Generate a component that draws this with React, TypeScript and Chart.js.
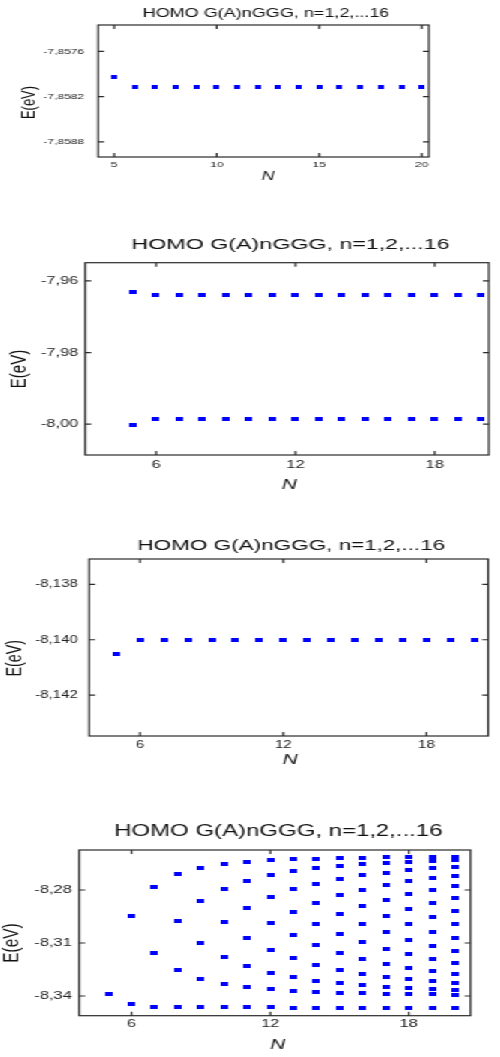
import React, { useEffect, useRef } from 'react';
import { Chart, registerables } from 'chart.js';

Chart.register(...registerables);

// ---------------- DATA ----------------
const TITLE = 'HOMO G(A)nGGG, n=1,2,...16';
const X_TITLE = 'N';
const Y_TITLE = 'E(eV)';

// Panel 1
const n1 = [5, 6, 7, 8, 9, 10, 11, 12, 13, 14, 15, 16, 17, 18, 19, 20];
const homo1 = [
  -7.85794, -7.85807, -7.85807, -7.85807, -7.85807, -7.85807, -7.85807, -7.85807,
  -7.85807, -7.85807, -7.85807, -7.85807, -7.85807, -7.85807, -7.85807, -7.85807,
];
const xTicks1 = [5, 10, 15, 20];
const yTicks1 = [-7.8576, -7.8582, -7.8588];

// Panel 2
const n2 = [5, 6, 7, 8, 9, 10, 11, 12, 13, 14, 15, 16, 17, 18, 19, 20];
const homo2Upper = [
  -7.9630, -7.9640, -7.9640, -7.9640, -7.9640, -7.9640, -7.9640, -7.9640,
  -7.9640, -7.9640, -7.9640, -7.9640, -7.9640, -7.9640, -7.9640, -7.9640,
];
const homo2Lower = [
  -8.0001, -7.9986, -7.9986, -7.9986, -7.9986, -7.9986, -7.9986, -7.9986,
  -7.9986, -7.9986, -7.9986, -7.9986, -7.9986, -7.9986, -7.9986, -7.9986,
];
const xTicks2 = [6, 12, 18];
const yTicks2 = [-7.96, -7.98, -8.0];

// Panel 3
const n3 = [5, 6, 7, 8, 9, 10, 11, 12, 13, 14, 15, 16, 17, 18, 19, 20];
const homo3 = [
  -8.14051, -8.14002, -8.14002, -8.14002, -8.14002, -8.14002, -8.14002, -8.14002,
  -8.14002, -8.14002, -8.14002, -8.14002, -8.14002, -8.14002, -8.14002, -8.14002,
];
const xTicks3 = [6, 12, 18];
const yTicks3 = [-8.138, -8.14, -8.142];

// Panel 4 (one list of levels per N)
const n4 = [5, 6, 7, 8, 9, 10, 11, 12, 13, 14, 15, 16, 17, 18, 19, 20];
const homo4Levels: number[][] = [
  [-8.3387],
  [-8.2949, -8.3447],
  [-8.2785, -8.3155, -8.346],
  [-8.2711, -8.2975, -8.3253, -8.3464],
  [-8.2675, -8.2864, -8.3098, -8.3302, -8.3464],
  [-8.2653, -8.2793, -8.2983, -8.3177, -8.3332, -8.3464],
  [-8.264, -8.2747, -8.29, -8.3072, -8.323, -8.3349, -8.3464],
  [-8.2632, -8.2715, -8.2841, -8.2989, -8.3138, -8.3268, -8.3362, -8.3464],
  [-8.2626, -8.2694, -8.2796, -8.2923, -8.3057, -8.3187, -8.3294, -8.3372, -8.3466],
  [-8.2623, -8.2677, -8.2764, -8.2872, -8.2992, -8.3111, -8.3223, -8.3315, -8.3377, -8.3466],
  [-8.2619, -8.2664, -8.2738, -8.283, -8.2938, -8.3049, -8.3155, -8.3253, -8.3328, -8.3381, -8.3466],
  [-8.2617, -8.2655, -8.2717, -8.2798, -8.2892, -8.2994, -8.3094, -8.3189, -8.3274, -8.334, -8.3385, -8.3466],
  [-8.2615, -8.2647, -8.2702, -8.2772, -8.2855, -8.2947, -8.304, -8.3132, -8.3218, -8.3291, -8.3347, -8.3387, -8.3466],
  [-8.2613, -8.264, -8.2689, -8.2751, -8.2825, -8.2908, -8.2994, -8.3081, -8.3164, -8.3241, -8.3306, -8.3356, -8.3389, -8.3466],
  [-8.2612, -8.2634, -8.2677, -8.2732, -8.2798, -8.2874, -8.2953, -8.3036, -8.3115, -8.3191, -8.3261, -8.3317, -8.3362, -8.3391, -8.3466],
  [-8.2612, -8.263, -8.2668, -8.2719, -8.2777, -8.2843, -8.2917, -8.2994, -8.3072, -8.3147, -8.3215, -8.3275, -8.3326, -8.3368, -8.3394, -8.3466],
];
const xTicks4 = [6, 12, 18];
const yTicks4 = [-8.28, -8.31, -8.34];

// ---------------- LAYOUT (unscaled units; whole figure is stretched horizontally) ----------------
const K = 1.5;
const CANVAS_W = 333;
const FONT = '"Liberation Sans", Arial, Helvetica, sans-serif';

type Pt = { x: number; y: number };

const pair = (xs: number[], ys: number[]): Pt[] => xs.map((x, i) => ({ x, y: ys[i] }));
const flatLevels = (xs: number[], levels: number[][]): Pt[] => {
  const out: Pt[] = [];
  xs.forEach((x, i) => levels[i].forEach((y) => out.push({ x, y })));
  return out;
};

const panels = [
  {
    top: 0, height: 200,
    area: { left: 65.3, right: 286, top: 25, bottom: 157 },
    xMin: 4.22, xMax: 20.35, yMin: -7.859, yMax: -7.85725,
    xTicks: xTicks1, yTicks: yTicks1, decimals: 4,
    series: [pair(n1, homo1)],
    marker: [4, 4],
    tickSize: 8, xPad: 2.5, yPad: 9.3,
    title: { x: 177.3, y: 13.3, size: 12 },
    nLab: { x: 178.7, y: 177, size: 12 },
    eLab: { x: 19.8, y: 102.5, size: 13 },
  },
  {
    top: 200, height: 315,
    area: { left: 56.7, right: 326, top: 62.7, bottom: 255 },
    xMin: 2.95, xMax: 20.33, yMin: -8.0086, yMax: -7.9549,
    xTicks: xTicks2, yTicks: yTicks2, decimals: 2,
    series: [pair(n2, homo2Upper), pair(n2, homo2Lower)],
    marker: [5, 4],
    tickSize: 11, xPad: 2.9, yPad: 4.5,
    title: { x: 193.7, y: 45, size: 15.5 },
    nLab: { x: 192.7, y: 285, size: 14 },
    eLab: { x: 13, y: 169, size: 15 },
  },
  {
    top: 515, height: 265,
    area: { left: 59.3, right: 325.5, top: 44, bottom: 221 },
    xMin: 3.87, xMax: 20.58, yMin: -8.14348, yMax: -8.13708,
    xTicks: xTicks3, yTicks: yTicks3, decimals: 3,
    series: [pair(n3, homo3)],
    marker: [5, 4],
    tickSize: 10, xPad: 3.7, yPad: 7.5,
    title: { x: 194.2, y: 30.5, size: 15 },
    nLab: { x: 193.3, y: 245, size: 14 },
    eLab: { x: 10.5, y: 143.3, size: 14.3 },
  },
  {
    top: 780, height: 277,
    area: { left: 52.7, right: 313.8, top: 70, bottom: 235.7 },
    xMin: 3.74, xMax: 20.67, yMin: -8.35115, yMax: -8.25736,
    xTicks: xTicks4, yTicks: yTicks4, decimals: 2,
    series: [flatLevels(n4, homo4Levels)],
    marker: [5, 4],
    tickSize: 11, xPad: 2.0, yPad: 4.9,
    title: { x: 185.5, y: 52, size: 16 },
    nLab: { x: 185.1, y: 265, size: 14 },
    eLab: { x: 7.3, y: 163, size: 15.4 },
  },
];

type PanelCfg = (typeof panels)[number];

const decorPlugin = {
  id: 'panelDecor',
  afterDraw(chart: any, _args: any, opts: any) {
    const { ctx, chartArea: ca, scales } = chart;
    const cfg: PanelCfg = opts.cfg;
    ctx.save();
    ctx.strokeStyle = '#2a2a2a';
    ctx.lineWidth = 1.2;
    ctx.strokeRect(ca.left, ca.top, ca.right - ca.left, ca.bottom - ca.top);
    const xs = scales.x;
    const ys = scales.y;
    ctx.beginPath();
    xs.ticks.forEach((t: any) => {
      const px = xs.getPixelForValue(t.value);
      ctx.moveTo(px, ca.bottom);
      ctx.lineTo(px, ca.bottom - 4);
      ctx.moveTo(px, ca.top);
      ctx.lineTo(px, ca.top + 4);
    });
    ys.ticks.forEach((t: any) => {
      const py = ys.getPixelForValue(t.value);
      ctx.moveTo(ca.left, py);
      ctx.lineTo(ca.left + 4, py);
      ctx.moveTo(ca.right, py);
      ctx.lineTo(ca.right - 4, py);
    });
    ctx.stroke();

    ctx.fillStyle = '#111';
    ctx.textAlign = 'center';
    ctx.textBaseline = 'middle';
    ctx.font = `${cfg.title.size}px ${FONT}`;
    ctx.fillText(TITLE, cfg.title.x, cfg.title.y);
    ctx.font = `italic ${cfg.nLab.size}px ${FONT}`;
    ctx.fillText(X_TITLE, cfg.nLab.x, cfg.nLab.y);
    ctx.translate(cfg.eLab.x, cfg.eLab.y);
    ctx.rotate(-Math.PI / 2);
    ctx.font = `${cfg.eLab.size}px ${FONT}`;
    ctx.fillText(Y_TITLE, 0, 0);
    ctx.restore();
  },
};

function makeMarker(w: number, h: number) {
  const c = document.createElement('canvas');
  c.width = w;
  c.height = h;
  const g = c.getContext('2d')!;
  g.fillStyle = '#0000ff';
  g.fillRect(0, 0, w, h);
  return c;
}

function Panel({ cfg }: { cfg: PanelCfg }) {
  const ref = useRef<HTMLCanvasElement | null>(null);
  useEffect(() => {
    if (!ref.current) return;
    const marker = makeMarker(cfg.marker[0], cfg.marker[1]);
    const fmt = (v: any) => Number(v).toFixed(cfg.decimals).replace('.', ',');
    const chart = new Chart(ref.current, {
      type: 'scatter',
      data: {
        datasets: cfg.series.map((pts) => ({
          data: pts,
          showLine: false,
          pointStyle: marker as any,
          pointRadius: 3,
          pointHoverRadius: 3,
          backgroundColor: '#0000ff',
          borderColor: '#0000ff',
          clip: 6,
        })),
      },
      options: {
        responsive: false,
        animation: false,
        devicePixelRatio: 1,
        events: [],
        layout: {
          padding: {
            left: 0,
            top: cfg.area.top,
            right: CANVAS_W - cfg.area.right,
            bottom: 0,
          },
        },
        plugins: {
          legend: { display: false },
          tooltip: { enabled: false },
          title: { display: false },
          panelDecor: { cfg },
        } as any,
        scales: {
          x: {
            type: 'linear',
            min: cfg.xMin,
            max: cfg.xMax,
            grid: { display: false, drawTicks: false },
            border: { display: false },
            afterBuildTicks: (s: any) => {
              s.ticks = cfg.xTicks.map((v) => ({ value: v }));
            },
            afterFit: (s: any) => {
              s.height = cfg.height - cfg.area.bottom;
            },
            ticks: {
              autoSkip: false,
              maxRotation: 0,
              padding: cfg.xPad,
              color: '#222',
              font: { size: cfg.tickSize, family: FONT },
              callback: (v: any) => String(v),
            },
          },
          y: {
            type: 'linear',
            min: cfg.yMin,
            max: cfg.yMax,
            grid: { display: false, drawTicks: false },
            border: { display: false },
            afterBuildTicks: (s: any) => {
              s.ticks = cfg.yTicks.map((v) => ({ value: v }));
            },
            afterFit: (s: any) => {
              s.width = cfg.area.left;
            },
            ticks: {
              autoSkip: false,
              padding: cfg.yPad,
              color: '#222',
              font: { size: cfg.tickSize, family: FONT },
              callback: fmt,
            },
          },
        },
      },
      plugins: [decorPlugin as any],
    });
    return () => chart.destroy();
  }, [cfg]);

  return (
    <canvas
      ref={ref}
      width={CANVAS_W}
      height={cfg.height}
      style={{
        position: 'absolute',
        left: 0,
        top: cfg.top,
        width: CANVAS_W,
        height: cfg.height,
        display: 'block',
      }}
    />
  );
}

export default function App() {
  return (
    <div
      style={{
        position: 'absolute',
        left: 0,
        top: 0,
        width: CANVAS_W,
        height: 1057,
        background: '#fff',
        transform: `scaleX(${K})`,
        transformOrigin: '0 0',
        overflow: 'hidden',
      }}
    >
      {panels.map((p, i) => (
        <Panel key={i} cfg={p} />
      ))}
    </div>
  );
}
